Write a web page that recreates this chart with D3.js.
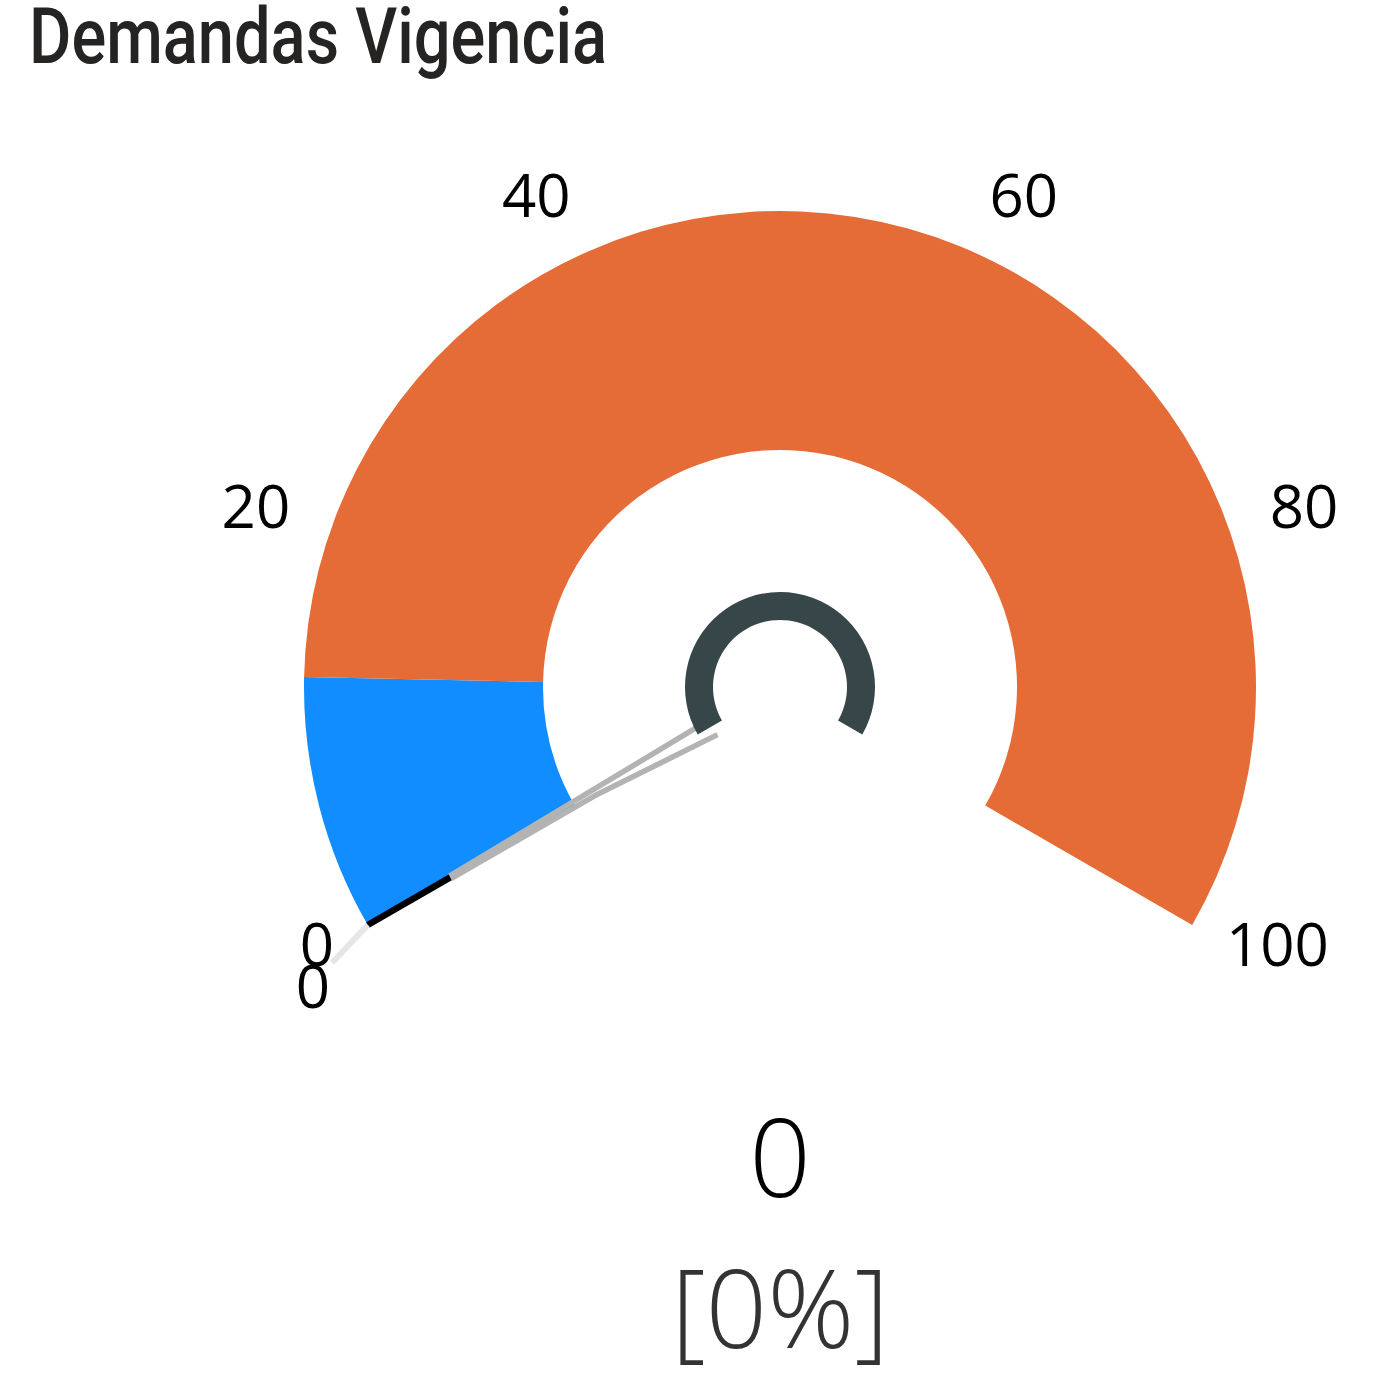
<!DOCTYPE html>
<html>
<head>
<meta charset="utf-8">
<script src="https://cdn.jsdelivr.net/npm/d3@7"></script>
<style>
  html, body { margin: 0; padding: 0; background: #ffffff; }
  svg { display: block; }
</style>
</head>
<body>
<svg id="chart" width="1383" height="1373"></svg>
<script>
// ---- data ----
const chartTitle = "Demandas Vigencia";
const gaugeDomain = [0, 100];
const bandFrom = [0, 13];
const bandTo = [13, 100];
const tickValues = [0, 20, 40, 60, 80, 100];
const currentValue = 0;
const targetValue = 0;
const percentOfTarget = 0;

// ---- styles ----
const bandColors = ["#118DFF", "#E66C37"];
const hubColor = "#374649";
const needleColor = "#b3b3b3";
const targetColor = "#000000";
const leaderColor = "#e6e6e6";
const numberFont = "'Open Sans', 'Noto Sans', 'DejaVu Sans', sans-serif";

// ---- layout ----
const W = 1383, H = 1373;
const cx = 780, cy = 687;
const outerR = 476, innerR = 237;
const hubOuter = 95, hubInner = 67;
const labelR = 515;
const tickFont = 60;
const leaderLen = 52, leaderTilt = -16.6 * Math.PI / 180;

const svg = d3.select("#chart");

const angle = d3.scaleLinear()
  .domain(gaugeDomain)
  .range([-2 * Math.PI / 3, 2 * Math.PI / 3]);

const polar = (r, a) => [cx + r * Math.sin(a), cy - r * Math.cos(a)];

// point along a ray at angle a, offset sideways by p
const rayPoint = (t, p, a) => [
  cx + t * Math.sin(a) - p * Math.cos(a),
  cy - t * Math.cos(a) - p * Math.sin(a)
];

// title
svg.append("text")
  .attr("x", 29)
  .attr("y", 63)
  .attr("textLength", 578)
  .attr("lengthAdjust", "spacingAndGlyphs")
  .attr("font-family", "Roboto, 'DejaVu Sans Condensed', sans-serif")
  .attr("font-weight", 500)
  .attr("font-size", 77)
  .attr("fill", "#252423")
  .text(chartTitle);

const g = svg.append("g");

// coloured bands
const bandArc = d3.arc().innerRadius(innerR).outerRadius(outerR);
g.selectAll("path.band")
  .data(bandFrom.map((f, i) => ({ from: f, to: bandTo[i], color: bandColors[i] })))
  .join("path")
  .attr("class", "band")
  .attr("transform", `translate(${cx},${cy})`)
  .attr("fill", d => d.color)
  .attr("d", d => bandArc({ startAngle: angle(d.from), endAngle: angle(d.to) }));

// needle (thin outline pointing at the current value)
const na = angle(currentValue);
const tipR = 0.8 * outerR;
const line = d3.line();
g.append("path")
  .attr("fill", "none")
  .attr("stroke", needleColor)
  .attr("stroke-width", 5.5)
  .attr("d", line([rayPoint(70, -7, na), rayPoint(tipR, -1.5, na)]));
g.append("path")
  .attr("fill", "none")
  .attr("stroke", needleColor)
  .attr("stroke-width", 5.5)
  .attr("stroke-linejoin", "round")
  .attr("d", line([rayPoint(78, 10, na), rayPoint(215, 1.5, na), rayPoint(tipR, 1.5, na)]));

// hub ring
const hubArc = d3.arc().innerRadius(hubInner).outerRadius(hubOuter);
g.append("path")
  .attr("transform", `translate(${cx},${cy})`)
  .attr("fill", hubColor)
  .attr("d", hubArc({ startAngle: angle(gaugeDomain[0]), endAngle: angle(gaugeDomain[1]) }));

// target marker and its leader line
const ta = angle(targetValue);
g.append("path")
  .attr("stroke", targetColor)
  .attr("stroke-width", 6.5)
  .attr("d", line([polar(tipR, ta), polar(outerR, ta)]));

const leadStart = polar(outerR, ta);
const leadEnd = [
  leadStart[0] + leaderLen * Math.sin(ta + leaderTilt),
  leadStart[1] - leaderLen * Math.cos(ta + leaderTilt)
];
g.append("path")
  .attr("stroke", leaderColor)
  .attr("stroke-width", 6)
  .attr("d", line([leadStart, leadEnd]));

// tick labels
g.selectAll("text.tick")
  .data(tickValues)
  .join("text")
  .attr("class", "tick")
  .each(function (v) {
    const a = angle(v);
    const [x, y] = polar(labelR, a);
    const upper = Math.cos(a) > 0;
    d3.select(this)
      .attr("x", x)
      .attr("y", upper ? y : y + 0.357 * tickFont)
      .attr("text-anchor", Math.sin(a) < 0 ? "end" : "start");
  })
  .attr("font-family", numberFont)
  .attr("font-size", tickFont)
  .attr("fill", "#000")
  .text(d => d3.format("d")(d));

// target label
g.append("text")
  .attr("x", leadEnd[0] - 2)
  .attr("y", leadEnd[1] + 0.714 * tickFont + 2)
  .attr("text-anchor", Math.sin(ta) < 0 ? "end" : "start")
  .attr("font-family", numberFont)
  .attr("font-size", tickFont)
  .attr("fill", "#000")
  .text(d3.format("d")(targetValue));

// centre value and percentage
svg.append("text")
  .attr("x", cx)
  .attr("y", 1197)
  .attr("text-anchor", "middle")
  .attr("font-family", numberFont)
  .attr("font-weight", 300)
  .attr("font-size", 108)
  .attr("fill", "#000")
  .text(d3.format("d")(currentValue));

svg.append("text")
  .attr("x", cx)
  .attr("y", 1348)
  .attr("text-anchor", "middle")
  .attr("font-family", numberFont)
  .attr("font-weight", 300)
  .attr("font-size", 108)
  .attr("fill", "#333333")
  .text(`[${d3.format("d")(percentOfTarget)}%]`);
</script>
</body>
</html>
